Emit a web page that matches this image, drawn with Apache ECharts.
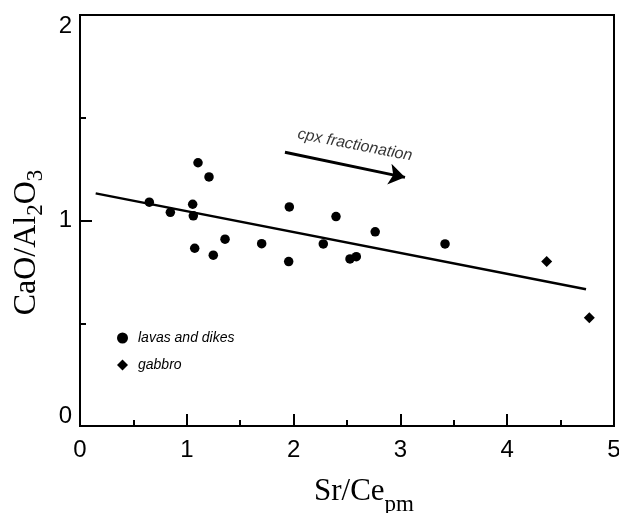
<!DOCTYPE html>
<html><head><meta charset="utf-8">
<script src="https://cdn.jsdelivr.net/npm/echarts@6/dist/echarts.min.js"></script>
<style>html,body{margin:0;padding:0;background:#fff}#c{width:619px;height:513px}</style>
</head><body><div id="c"></div>
<script>
// ---- data ----
const lavasX = [0.649, 0.846, 1.055, 1.061, 1.105, 1.208, 1.074, 1.248, 1.358, 1.701, 1.960, 1.954, 2.278, 2.397, 2.528, 2.587, 2.764, 3.418];
const lavasY = [1.089, 1.040, 1.079, 1.023, 1.281, 1.212, 0.865, 0.831, 0.909, 0.887, 1.066, 0.800, 0.886, 1.019, 0.813, 0.824, 0.945, 0.886];
const gabbroX = [4.370, 4.769];
const gabbroY = [0.801, 0.527];
const trendX = [0.147, 4.738];
const trendY = [1.132, 0.665];
const arrowX = [1.919, 3.043];
const arrowY = [1.332, 1.210];
const noteX = [2.575];
const noteY = [1.367];
const noteText = ['cpx fractionation'];
const xTicks = [0, 1, 2, 3, 4, 5];
const yTicks = [0, 1, 2];
const seriesNames = ['lavas and dikes', 'gabbro'];

const zip = (a, b) => a.map((v, i) => [v, b[i]]);
const TICKFONT = "'Liberation Sans Narrow', 'Liberation Sans', Arial, sans-serif";
const SERIF = "'Liberation Serif', 'Times New Roman', serif";
const SANS = "'Liberation Sans', Arial, sans-serif";

const chart = echarts.init(document.getElementById('c'), null, {renderer: 'canvas'});
chart.setOption({
  animation: false,
  backgroundColor: '#fff',
  grid: {left: 80, right: 5, top: 15, bottom: 87, outerBoundsMode: 'none', containLabel: false,
         show: true, borderColor: '#000', borderWidth: 2},
  legend: {
    orient: 'vertical', left: 112, top: 326, itemWidth: 11, itemHeight: 11, itemGap: 13,
    data: [{name: seriesNames[0], icon: 'circle'}, {name: seriesNames[1], icon: 'diamond'}],
    itemStyle: {color: '#000', opacity: 1},
    textStyle: {fontFamily: SANS, fontStyle: 'italic', fontSize: 14, color: '#000', lineHeight: 14, padding: [0, 0, 0, 5]}
  },
  xAxis: {
    type: 'value', min: xTicks[0], max: xTicks[xTicks.length - 1], interval: 1,
    axisLine: {show: true, lineStyle: {color: '#000', width: 2}},
    axisTick: {show: true, inside: true, length: 12, lineStyle: {color: '#000', width: 2}},
    minorTick: {show: true, splitNumber: 2, length: 6, lineStyle: {color: '#000', width: 2}},
    splitLine: {show: false},
    axisLabel: {fontFamily: TICKFONT, fontSize: 24, color: '#000', margin: 12},
    name: '{a|Sr/Ce}{s|pm}', nameLocation: 'middle', nameGap: 50,
    nameTextStyle: {
      padding: [0, 0, 0, 34],
      rich: {
        a: {fontFamily: SERIF, fontSize: 31, color: '#000', lineHeight: 32, verticalAlign: 'top'},
        s: {fontFamily: SERIF, fontSize: 23, color: '#000', lineHeight: 32, verticalAlign: 'top', padding: [17, 0, 0, 0]}
      }
    }
  },
  yAxis: {
    type: 'value', min: yTicks[0], max: yTicks[yTicks.length - 1], interval: 1,
    axisLine: {show: true, lineStyle: {color: '#000', width: 2}},
    axisTick: {show: true, inside: true, length: 12, lineStyle: {color: '#000', width: 2}},
    minorTick: {show: true, splitNumber: 2, length: 6, lineStyle: {color: '#000', width: 2}},
    splitLine: {show: false},
    axisLabel: {
      margin: 8,
      formatter: function (v) {
        if (v === yTicks[yTicks.length - 1]) return '{t|' + v + '}';
        if (v === yTicks[0]) return '{b|' + v + '}';
        return '{m|' + v + '}';
      },
      rich: {
        t: {fontFamily: TICKFONT, fontSize: 24, color: '#000', padding: [22, 0, 0, 0]},
        b: {fontFamily: TICKFONT, fontSize: 24, color: '#000', padding: [0, 0, 20, 0]},
        m: {fontFamily: TICKFONT, fontSize: 24, color: '#000'}
      }
    },
    name: '{a|CaO/Al}{s|2}{a|O}{s|3}', nameLocation: 'middle', nameGap: 34,
    nameTextStyle: {
      padding: [0, 44, 0, 0],
      rich: {
        a: {fontFamily: SERIF, fontSize: 32, color: '#000', lineHeight: 32, verticalAlign: 'top'},
        s: {fontFamily: SERIF, fontSize: 23, color: '#000', lineHeight: 32, verticalAlign: 'top', padding: [14, 0, 0, 0]}
      }
    }
  },
  series: [
    {
      name: 'trend', type: 'line', data: zip(trendX, trendY), symbol: 'none',
      lineStyle: {color: '#000', width: 2.5}, z: 2, silent: true
    },
    {
      name: seriesNames[0], type: 'scatter', data: zip(lavasX, lavasY), symbol: 'circle', symbolSize: 9.5,
      itemStyle: {color: '#000', opacity: 1}, z: 3
    },
    {
      name: seriesNames[1], type: 'scatter', data: zip(gabbroX, gabbroY), symbol: 'diamond', symbolSize: 11,
      itemStyle: {color: '#000', opacity: 1}, z: 3
    },
    {
      name: 'arrow', type: 'lines', coordinateSystem: 'cartesian2d',
      data: [{coords: zip(arrowX, arrowY)}],
      symbol: ['none', 'arrow'], symbolSize: [0, 16],
      lineStyle: {color: '#000', width: 3, opacity: 1}, silent: true
    },
    {
      name: 'note', type: 'scatter', data: zip(noteX, noteY), symbolSize: 0, silent: true,
      label: {
        show: true, position: 'inside', rotate: -11, formatter: () => noteText[0],
        fontFamily: SANS, fontStyle: 'italic', fontSize: 16, color: '#000'
      }
    }
  ]
});
</script></body></html>
